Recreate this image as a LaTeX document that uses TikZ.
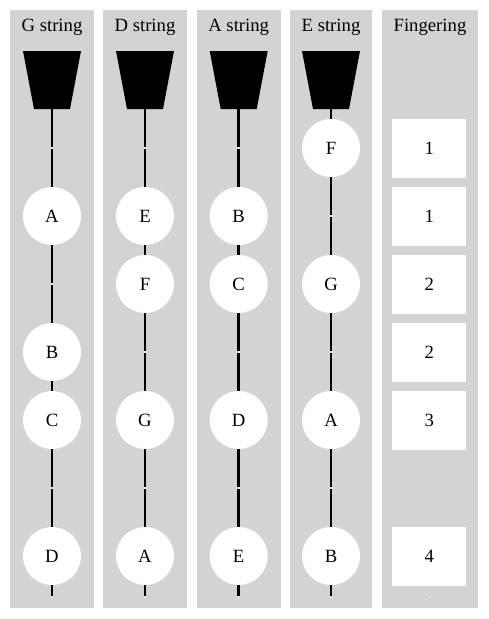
\documentclass[tikz,border=0pt]{standalone}
\usepackage{fontspec}
\setmainfont{Liberation Serif}
\definecolor{Panel}{HTML}{D3D3D3}

\begin{document}
\begin{tikzpicture}[x=1pt,y=-1pt,
  label/.style={font=\fontsize{18.7}{22}\selectfont},
  note/.style={circle,fill=white,minimum size=58pt,inner sep=0pt,label},
  finger/.style={rectangle,fill=white,minimum width=73.7pt,minimum height=58.7pt,inner sep=0pt,label},
  pass/.style={circle,fill=white,minimum size=1.8pt,inner sep=0pt},
  title/.style={anchor=base,label},
  string/.style={line width=2.7pt}]
\useasboundingbox (0,0) rectangle (488,619);
% panels
\fill[Panel] (10,10) rectangle (94,608);
\fill[Panel] (103,10) rectangle (187,608);
\fill[Panel] (196.7,10) rectangle (280.7,608);
\fill[Panel] (290,10) rectangle (372.3,608);
\fill[Panel] (382,10) rectangle (478,608);
\node[title] (tG) at (52,31) {G string};
\node[title] (tD) at (145,31) {D string};
\node[title] (tA) at (238.7,31) {A string};
\node[title] (tE) at (331,31) {E string};
\node[title] (tF) at (430,31) {Fingering};
% pegs
\fill (23,51) -- (81,51) -- (70,109) -- (34,109) -- cycle;
\fill (116,51) -- (174,51) -- (163,109) -- (127,109) -- cycle;
\fill (209.7,51) -- (267.7,51) -- (256.7,109) -- (220.7,109) -- cycle;
\fill (302,51) -- (360,51) -- (349,109) -- (313,109) -- cycle;
\coordinate (G0) at (52,109);
\coordinate (D0) at (145,109);
\coordinate (A0) at (238.7,109);
\coordinate (E0) at (331,109);
% G string
\node[pass] (G1) at (52,148) {};
\node[note] (G2) at (52,216) {A};
\node[pass] (G3) at (52,284) {};
\node[note] (G4) at (52,352) {B};
\node[note] (G5) at (52,420) {C};
\node[pass] (G6) at (52,488) {};
\node[note] (G7) at (52,556) {D};
\node[pass] (G8) at (52,597) {};
% D string
\node[pass] (D1) at (145,148) {};
\node[note] (D2) at (145,216) {E};
\node[note] (D3) at (145,284) {F};
\node[pass] (D4) at (145,352) {};
\node[note] (D5) at (145,420) {G};
\node[pass] (D6) at (145,488) {};
\node[note] (D7) at (145,556) {A};
\node[pass] (D8) at (145,597) {};
% A string
\node[pass] (A1) at (238.7,148) {};
\node[note] (A2) at (238.7,216) {B};
\node[note] (A3) at (238.7,284) {C};
\node[pass] (A4) at (238.7,352) {};
\node[note] (A5) at (238.7,420) {D};
\node[pass] (A6) at (238.7,488) {};
\node[note] (A7) at (238.7,556) {E};
\node[pass] (A8) at (238.7,597) {};
% E string
\node[note] (E1) at (331,148) {F};
\node[pass] (E2) at (331,216) {};
\node[note] (E3) at (331,284) {G};
\node[pass] (E4) at (331,352) {};
\node[note] (E5) at (331,420) {A};
\node[pass] (E6) at (331,488) {};
\node[note] (E7) at (331,556) {B};
\node[pass] (E8) at (331,597) {};
% fingering
\node[finger] (F1) at (429.2,148.3) {1};
\node[finger] (F2) at (429.2,216.3) {1};
\node[finger] (F3) at (429.2,284.3) {2};
\node[finger] (F4) at (429.2,352.3) {2};
\node[finger] (F5) at (429.2,420.3) {3};
\node[finger] (F7) at (429.2,556.3) {4};
\node[pass] (F8) at (429.2,597) {};
% strings
\draw[string] (G0) -- (G1) -- (G2) -- (G3) -- (G4) -- (G5) -- (G6) -- (G7) -- (G8);
\draw[string] (D0) -- (D1) -- (D2) -- (D3) -- (D4) -- (D5) -- (D6) -- (D7) -- (D8);
\draw[string] (A0) -- (A1) -- (A2) -- (A3) -- (A4) -- (A5) -- (A6) -- (A7) -- (A8);
\draw[string] (E0) -- (E1) -- (E2) -- (E3) -- (E4) -- (E5) -- (E6) -- (E7) -- (E8);
\end{tikzpicture}
\end{document}
